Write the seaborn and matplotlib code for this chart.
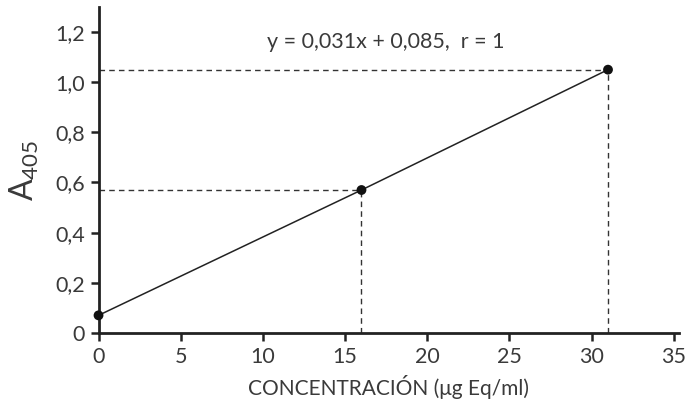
import matplotlib
matplotlib.use("Agg")
import matplotlib.pyplot as plt
import seaborn as sns
import pandas as pd

conc = [0, 16, 31]
absorb = [0.07, 0.57, 1.05]
x_ticks = [0, 5, 10, 15, 20, 25, 30, 35]
y_ticks = [0, 0.2, 0.4, 0.6, 0.8, 1.0, 1.2]
y_tick_labels = ["0", "0,2", "0,4", "0,6", "0,8", "1,0", "1,2"]
equation = "y = 0,031x + 0,085,  r = 1"

sns.set_style("ticks")
plt.rcParams["font.family"] = ["Lato", "DejaVu Sans"]
plt.rcParams["mathtext.default"] = "regular"
txt = "#3a3a3a"

df = pd.DataFrame({"conc": conc, "abs": absorb})

fig = plt.figure(figsize=(6.89, 4.12), dpi=100)
ax = fig.add_axes([0.143, 0.192, 0.842, 0.791])

sns.lineplot(data=df, x="conc", y="abs", ax=ax, color="#222222", lw=1.1)
sns.scatterplot(data=df, x="conc", y="abs", ax=ax, color="#111111", s=50,
                edgecolor="none", zorder=5, clip_on=False)

for xv, yv in zip(conc[1:], absorb[1:]):
    ax.plot([0, xv], [yv, yv], ls=(0, (4, 3)), color="#333333", lw=1)
    ax.plot([xv, xv], [0, yv], ls=(0, (4, 3)), color="#333333", lw=1)

ax.set_xlim(0, 35.3)
ax.set_ylim(0, 1.3)
ax.set_xticks(x_ticks)
ax.set_xticklabels([str(v) for v in x_ticks])
ax.set_yticks(y_ticks)
ax.set_yticklabels(y_tick_labels)
sns.despine(ax=ax)
for s in ["left", "bottom"]:
    ax.spines[s].set_linewidth(2)
    ax.spines[s].set_color("#222222")
ax.tick_params(axis="both", length=6, width=1.8, color="#222222",
               labelsize=15.5, labelcolor=txt, pad=4)

ax.set_xlabel("CONCENTRACIÓN (μg Eq/ml)", fontsize=15, color=txt, labelpad=6)
ax.set_ylabel("A$_{405}$", fontsize=23, color=txt, labelpad=10)

ax.text(17.5, 1.16, equation, ha="center", va="center", fontsize=15.5, color=txt)

fig.savefig("out.png", dpi=100)
